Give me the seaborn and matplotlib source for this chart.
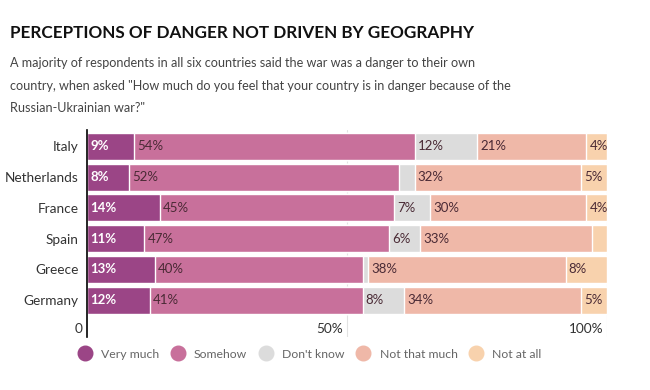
import numpy as np
import pandas as pd
import matplotlib
matplotlib.use("Agg")
import matplotlib.pyplot as plt
from matplotlib.lines import Line2D
import seaborn as sns

# survey data, percent of respondents
countries = ["Italy", "Netherlands", "France", "Spain", "Greece", "Germany"]
very_much = [9, 8, 14, 11, 13, 12]
somehow = [54, 52, 45, 47, 40, 41]
dont_know = [12, 3, 7, 6, 1, 8]
not_that_much = [21, 32, 30, 33, 38, 34]
not_at_all = [4, 5, 4, 3, 8, 5]

answers = ["Very much", "Somehow", "Don't know", "Not that much", "Not at all"]
series = [very_much, somehow, dont_know, not_that_much, not_at_all]
colors = ["#9b4586", "#c8709b", "#dcdcdc", "#efb8a8", "#f8d2ad"]
label_colors = ["white", "#4a2a35", "#4a2a35", "#4a2a35", "#4a2a35"]
# small segments that carry no label in the original
hide = {("Netherlands", "Don't know"), ("Spain", "Not at all"), ("Greece", "Don't know")}

df = pd.DataFrame(dict(zip(answers, series)), index=countries)
cum = df.cumsum(axis=1)

sns.set_theme(style="white")
plt.rcParams["font.family"] = ["Lato", "DejaVu Sans"]

fig = plt.figure(figsize=(6.5, 3.9), dpi=100)
ax = fig.add_axes([0.134, 0.136, 0.80, 0.531])

# gridlines behind the bars
for g in [50, 100]:
    ax.axvline(g, color="#e2e2e2", lw=0.8, zorder=0)

# stacked bars: draw cumulative totals from the last answer back to the first
for i in range(len(answers) - 1, -1, -1):
    sns.barplot(x=cum[answers[i]].values, y=countries, orient="h", color=colors[i],
                width=0.88, saturation=1, ax=ax, zorder=2)

# segment labels
for r, c in enumerate(countries):
    start = 0
    for i, a in enumerate(answers):
        v = df.loc[c, a]
        if (c, a) not in hide:
            ax.text(start + 0.6, r, f"{v}%", va="center", ha="left", fontsize=9.5,
                    color=label_colors[i], fontweight="bold" if i == 0 else "normal", zorder=3)
        start += v

ax.set_xlim(0, 100)
ax.set_ylim(6.2, -0.54)
ax.set_xlabel("")
ax.set_ylabel("")
ax.set_xticks([])
ax.tick_params(axis="y", length=0, pad=6, labelsize=9.8, labelcolor="#333333")
for s in ["top", "right", "bottom"]:
    ax.spines[s].set_visible(False)
ax.spines["left"].set_color("black")
ax.spines["left"].set_linewidth(1.2)
ax.spines["left"].set_zorder(4)

# x tick labels sit inside the axes, right-aligned on the gridlines
for xv, lab in [(-0.8, "0"), (49.3, "50%"), (99.4, "100%")]:
    ax.text(xv, 5.95, lab, ha="right", va="center", fontsize=9.8, color="#333333")

fig.text(0.015, 0.915, "PERCEPTIONS OF DANGER NOT DRIVEN BY GEOGRAPHY",
         fontsize=12.3, fontweight="bold", color="#111111", va="center")
sub = ["A majority of respondents in all six countries said the war was a danger to their own",
       "country, when asked \"How much do you feel that your country is in danger because of the",
       "Russian-Ukrainian war?\""]
for k, line in enumerate(sub):
    fig.text(0.015, 1 - (63 + 22.5 * k) / 390, line, fontsize=9.1, color="#444444", va="center")

handles = [Line2D([], [], marker="o", ls="", markersize=10.5, markerfacecolor=col,
                  markeredgecolor=col) for col in colors]
fig.legend(handles, answers, loc="center left", bbox_to_anchor=(0.102, 1 - 354 / 390),
           ncol=5, frameon=False, fontsize=8.8, labelcolor="#666666",
           handletextpad=0.75, columnspacing=0.9, handlelength=1.2)

fig.savefig("out.png", dpi=100)
